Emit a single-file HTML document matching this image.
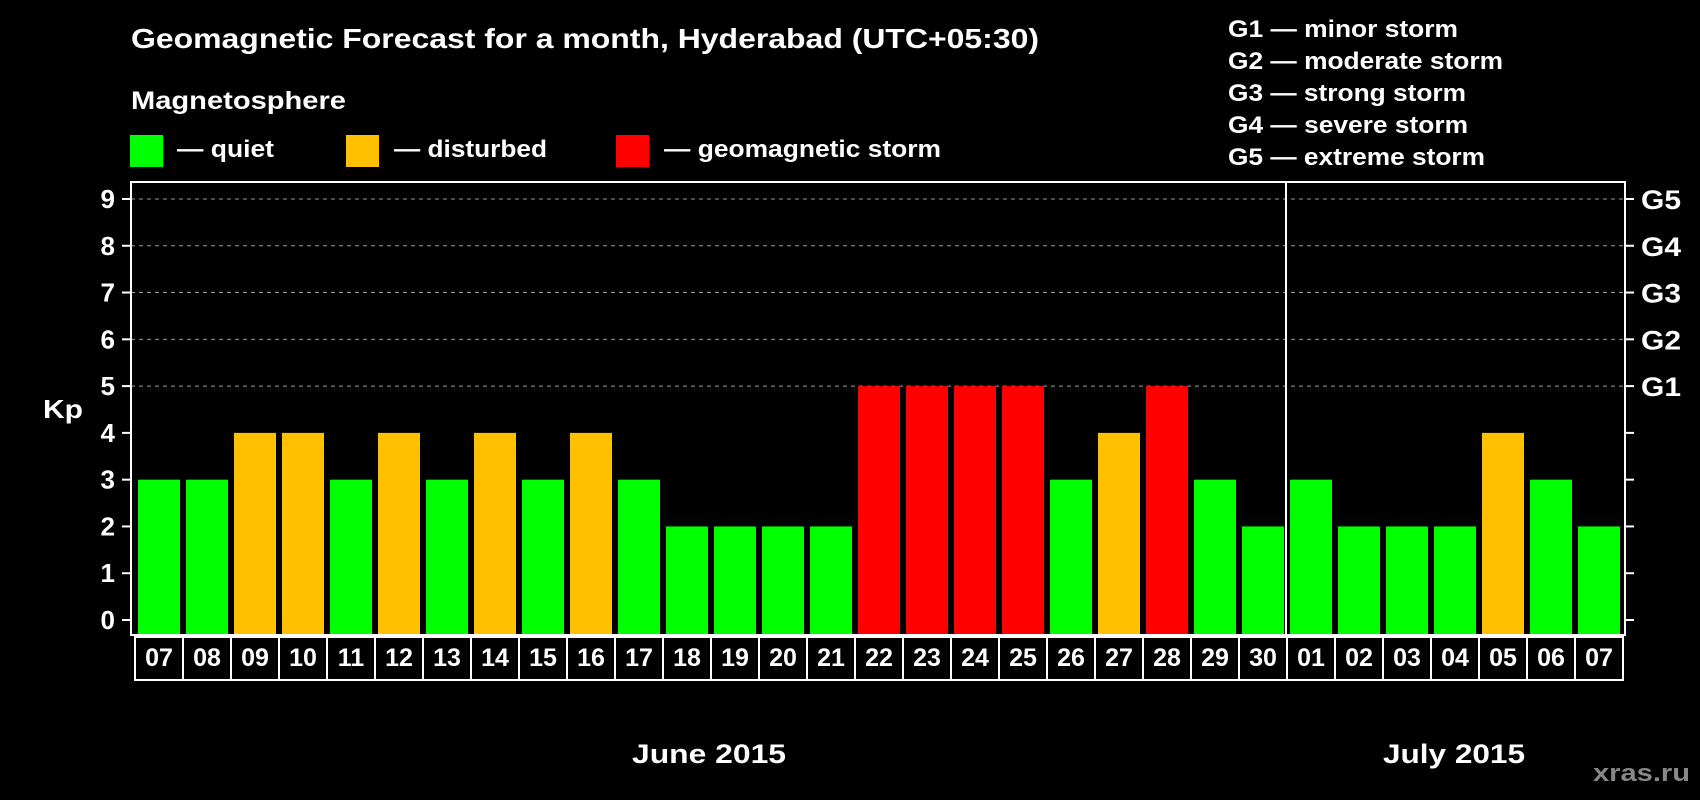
<!DOCTYPE html>
<html><head><meta charset="utf-8"><style>
html,body{margin:0;padding:0;background:#000;width:1700px;height:800px;overflow:hidden}
svg text{font-family:"Liberation Sans",Arial,sans-serif;font-weight:bold;fill:#fff}
</style></head><body>
<svg id="chart" width="1700" height="800" viewBox="0 0 1700 800" xmlns="http://www.w3.org/2000/svg">
<rect x="0" y="0" width="1700" height="800" fill="#000"/>
<text x="131" y="48" font-size="28" textLength="908" lengthAdjust="spacingAndGlyphs">Geomagnetic Forecast for a month, Hyderabad (UTC+05:30)</text>
<text x="131" y="109" font-size="25" textLength="215" lengthAdjust="spacingAndGlyphs">Magnetosphere</text>
<g><rect x="130" y="135" width="33" height="32" fill="#00ff00"/><text x="177" y="157" font-size="24" textLength="97" lengthAdjust="spacingAndGlyphs">— quiet</text></g>
<g><rect x="346" y="135" width="33" height="32" fill="#ffc000"/><text x="394" y="157" font-size="24" textLength="153" lengthAdjust="spacingAndGlyphs">— disturbed</text></g>
<g><rect x="616" y="135" width="33" height="32" fill="#ff0000"/><text x="664" y="157" font-size="24" textLength="277" lengthAdjust="spacingAndGlyphs">— geomagnetic storm</text></g>
<g font-size="24">
<text x="1228" y="37" textLength="230" lengthAdjust="spacingAndGlyphs">G1 — minor storm</text>
<text x="1228" y="69" textLength="275" lengthAdjust="spacingAndGlyphs">G2 — moderate storm</text>
<text x="1228" y="101" textLength="238" lengthAdjust="spacingAndGlyphs">G3 — strong storm</text>
<text x="1228" y="133" textLength="240" lengthAdjust="spacingAndGlyphs">G4 — severe storm</text>
<text x="1228" y="165" textLength="257" lengthAdjust="spacingAndGlyphs">G5 — extreme storm</text>
</g>
<g id="grid"></g>
<g id="bars"></g>
<g id="axes"></g>
<text x="43" y="418" font-size="26" textLength="40" lengthAdjust="spacingAndGlyphs">Kp</text>
<text x="632" y="763" font-size="27" textLength="154" lengthAdjust="spacingAndGlyphs">June 2015</text>
<text x="1383" y="763" font-size="27" textLength="142" lengthAdjust="spacingAndGlyphs">July 2015</text>
<text x="1593" y="781" font-size="24" textLength="97" lengthAdjust="spacingAndGlyphs" style="fill:#888">xras.ru</text>
</svg>
<script>
const days = ["07","08","09","10","11","12","13","14","15","16","17","18","19","20","21","22","23","24","25","26","27","28","29","30","01","02","03","04","05","06","07"];
const kpValues = [3,3,4,4,3,4,3,4,3,4,3,2,2,2,2,5,5,5,5,3,4,5,3,2,3,2,2,2,4,3,2];
const yTicks = [0,1,2,3,4,5,6,7,8,9];
const gLabels = ["G1","G2","G3","G4","G5"];
const monthSplitIndex = 24;

const NS="http://www.w3.org/2000/svg";
const L=131,R=1625,T=182,B=635;
const x0=135, slot=48, barW=42;
function yScale(v){return 620-v*46.78;}
function xScale(i){return x0+i*slot;}
function mk(tag,attrs,parent){const e=document.createElementNS(NS,tag);for(const k in attrs)e.setAttribute(k,attrs[k]);parent.appendChild(e);return e;}
function color(v){return v>=5?"#ff0000":(v>=4?"#ffc000":"#00ff00");}

const grid=document.getElementById('grid');
for(let v=5;v<=9;v++){
  const l=mk('line',{x1:L,x2:R,y1:yScale(v),y2:yScale(v),stroke:'#999','stroke-width':1,'stroke-dasharray':'4,4'},grid);
  
  
}
const bars=document.getElementById('bars');
kpValues.forEach((v,i)=>{
  const r=mk('rect',{x:xScale(i)+3,y:yScale(v),width:barW,height:B-yScale(v),fill:color(v)},bars);
  
  
});
const axes=document.getElementById('axes');
const frame=mk('rect',{x:L,y:T,width:R-L,height:B-T,fill:'none',stroke:'#fff','stroke-width':2},axes);


const sx=xScale(monthSplitIndex)-1;
const sep=mk('line',{x1:sx,x2:sx,y1:T,y2:B,stroke:'#fff','stroke-width':2},axes);


yTicks.forEach(v=>{
  const y=yScale(v);
  mk('line',{x1:L-9,x2:L,y1:y,y2:y,stroke:'#fff','stroke-width':2},axes);
  mk('line',{x1:R,x2:R+9,y1:y,y2:y,stroke:'#fff','stroke-width':2},axes);
  const t=mk('text',{x:115,y:y+9,'font-size':26,'text-anchor':'end'},axes);
  t.textContent=v;
  
  
});
gLabels.forEach((g,i)=>{
  const t=mk('text',{x:1641,y:yScale(5+i)+10,'font-size':27,textLength:40,lengthAdjust:'spacingAndGlyphs'},axes);
  t.textContent=g;
  
  
});
days.forEach((d,i)=>{
  const bx=xScale(i);
  const box=mk('rect',{x:bx,y:637,width:slot,height:43,fill:'none',stroke:'#fff','stroke-width':2},axes);
  
  
  const t=mk('text',{x:bx+slot/2,y:666,'font-size':25,'text-anchor':'middle'},axes);
  t.textContent=d;
  
  
});
</script>
</body></html>
